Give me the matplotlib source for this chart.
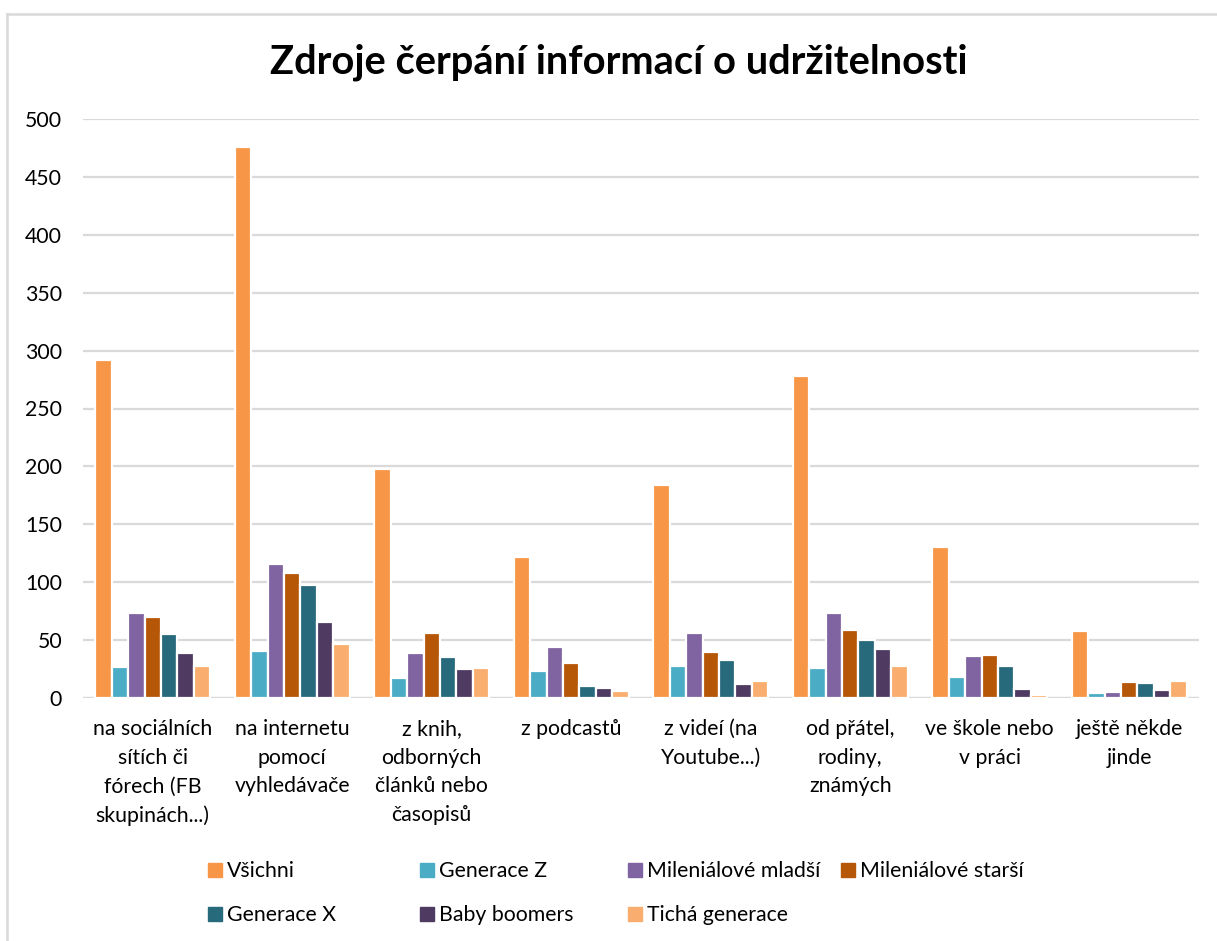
import numpy as np
import matplotlib
matplotlib.use('Agg')
import matplotlib.pyplot as plt
from matplotlib.lines import Line2D

plt.rcParams['font.family'] = ['Lato', 'DejaVu Sans']

# data
categories = [
    'na sociálních\nsítích či\nfórech (FB\nskupinách...)',
    'na internetu\npomocí\nvyhledávače',
    'z knih,\nodborných\nčlánků nebo\nčasopisů',
    'z podcastů',
    'z videí (na\nYoutube...)',
    'od přátel,\nrodiny,\nznámých',
    've škole nebo\nv práci',
    'ještě někde\njinde',
]
series_names = ['Všichni', 'Generace Z', 'Mileniálové mladší', 'Mileniálové starší',
                'Generace X', 'Baby boomers', 'Tichá generace']
vsichni = [292, 476, 198, 122, 184, 278, 130, 58]
gen_z = [27, 41, 17, 23, 28, 26, 18, 4]
mil_mladsi = [73, 116, 39, 44, 56, 73, 36, 5]
mil_starsi = [70, 108, 56, 30, 40, 59, 37, 14]
gen_x = [55, 98, 35, 10, 33, 50, 28, 13]
baby_boomers = [39, 66, 25, 9, 12, 42, 8, 7]
ticha = [28, 47, 26, 6, 15, 28, 3, 15]
yticks = [0, 50, 100, 150, 200, 250, 300, 350, 400, 450, 500]

colors = ['#F79646', '#4BACC6', '#8064A2', '#B65708', '#276A7C', '#4F3A62', '#F9AD6E']
all_series = [vsichni, gen_z, mil_mladsi, mil_starsi, gen_x, baby_boomers, ticha]

W, H = 1217, 941
fs = 15.3

fig = plt.figure(figsize=(W / 100, H / 100), dpi=100)
ax = fig.add_axes([83 / W, 1 - 698 / H, (1199 - 83) / W, (698 - 119) / H])

x = np.arange(len(categories))
pitch = 0.1176
for i, (vals, c) in enumerate(zip(all_series, colors)):
    ax.bar(x + (i - 3) * pitch, vals, width=pitch, color=c,
           edgecolor='white', linewidth=1.6, zorder=3)

ax.set_xlim(-0.5, len(categories) - 0.5)
ax.set_ylim(0, 500)
ax.set_yticks(yticks)
ax.yaxis.grid(True, color='#D9D9D9', linewidth=1.6, zorder=0)
for s in ax.spines.values():
    s.set_visible(False)
ax.axhline(0, color='#D9D9D9', linewidth=1.6, zorder=1)
ax.tick_params(axis='both', length=0, labelsize=fs, colors='#000000')
ax.tick_params(axis='y', pad=15)
ax.set_xticks(x)
ax.set_xticklabels(categories, linespacing=1.55, va='top')
ax.tick_params(axis='x', pad=15)

fig.text(619 / W, 1 - 62 / H, 'Zdroje čerpání informací o udržitelnosti',
         ha='center', va='center', fontsize=28.7, fontweight='bold')

# legend: four columns with equal width, filled row by row
handles = [Line2D([], [], marker='s', linestyle='none', markersize=9.5,
                  markerfacecolor=c, markeredgecolor=c) for c in colors]
col_x = [209, 421, 629, 842]
for j, cx in enumerate(col_x):
    idx = [k for k in (j, j + 4) if k < len(series_names)]
    fig.legend([handles[k] for k in idx], [series_names[k] for k in idx],
               loc='upper left', bbox_to_anchor=((cx - 4) / W, 1 - 861 / H),
               frameon=False, fontsize=fs, handletextpad=0.15, handlelength=0.9,
               borderpad=0, borderaxespad=0, labelspacing=1.15)

# chart area frame (top and left edges visible)
fig.add_artist(Line2D([7 / W, 7 / W], [0, 1 - 14 / H], transform=fig.transFigure,
                      color='#D9D9D9', linewidth=1.8))
fig.add_artist(Line2D([7 / W, 1], [1 - 14 / H, 1 - 14 / H], transform=fig.transFigure,
                      color='#D9D9D9', linewidth=1.8))

fig.savefig('out.png', dpi=100, facecolor='white')
